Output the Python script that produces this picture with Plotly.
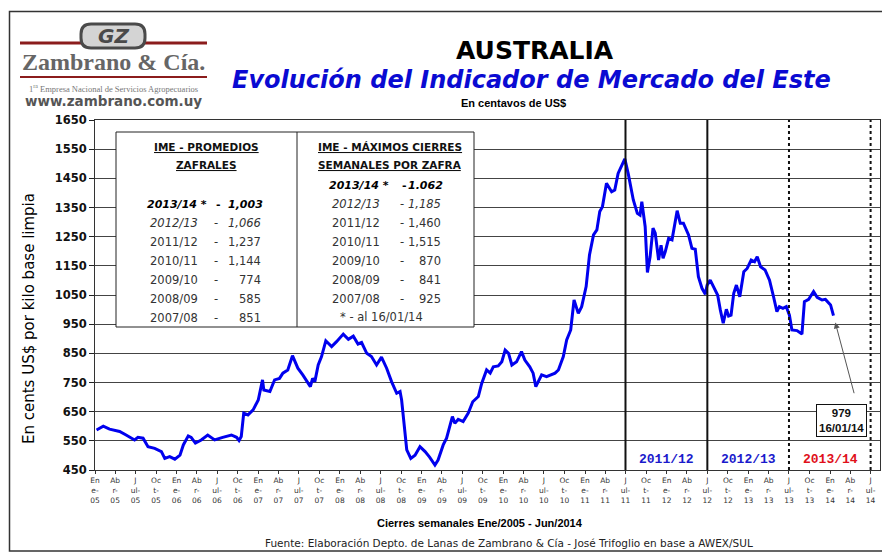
import plotly.graph_objects as go

# ---------------- DATA ----------------
dates = [
    "2005-01-08", "2005-02-07", "2005-03-07", "2005-04-21", "2005-05-20", "2005-06-27",
    "2005-07-12", "2005-08-04", "2005-08-26", "2005-09-25", "2005-10-25", "2005-11-09",
    "2005-12-01", "2005-12-24", "2006-01-16", "2006-01-31", "2006-02-22", "2006-03-07",
    "2006-03-26", "2006-04-21", "2006-05-20", "2006-06-20", "2006-07-26", "2006-09-03",
    "2006-09-26", "2006-10-07", "2006-10-17", "2006-10-28", "2006-11-16", "2006-12-09",
    "2007-01-01", "2007-01-20", "2007-01-26", "2007-02-22", "2007-03-15", "2007-04-06",
    "2007-04-21", "2007-05-13", "2007-06-03", "2007-06-27", "2007-07-19", "2007-08-11",
    "2007-08-22", "2007-09-01", "2007-09-11", "2007-09-26", "2007-10-11", "2007-10-30",
    "2007-11-25", "2007-12-17", "2008-01-16", "2008-02-08", "2008-03-01", "2008-03-22",
    "2008-04-07", "2008-04-30", "2008-05-21", "2008-06-13", "2008-07-05", "2008-07-28",
    "2008-08-19", "2008-09-11", "2008-09-26", "2008-10-03", "2008-10-14", "2008-10-26",
    "2008-11-13", "2008-12-02", "2008-12-24", "2009-01-16", "2009-02-05", "2009-03-01",
    "2009-03-15", "2009-04-07", "2009-04-22", "2009-05-06", "2009-05-18", "2009-05-29",
    "2009-06-13", "2009-07-05", "2009-07-28", "2009-08-17", "2009-09-11", "2009-09-26",
    "2009-10-18", "2009-11-03", "2009-11-17", "2009-12-09", "2009-12-25", "2010-01-09",
    "2010-01-24", "2010-02-08", "2010-03-01", "2010-03-23", "2010-04-07", "2010-04-29",
    "2010-05-14", "2010-05-26", "2010-06-21", "2010-07-13", "2010-08-20", "2010-09-04",
    "2010-09-26", "2010-10-11", "2010-10-29", "2010-11-13", "2010-12-02", "2010-12-17",
    "2011-01-06", "2011-01-21", "2011-02-08", "2011-02-23", "2011-03-08", "2011-03-20",
    "2011-04-07", "2011-04-30", "2011-05-14", "2011-05-29", "2011-06-28", "2011-07-13",
    "2011-08-05", "2011-08-23", "2011-09-04", "2011-09-12", "2011-09-27", "2011-10-07",
    "2011-10-19", "2011-11-01", "2011-11-11", "2011-11-26", "2011-12-07", "2011-12-16",
    "2011-12-26", "2012-01-10", "2012-01-25", "2012-02-17", "2012-03-02", "2012-03-16",
    "2012-04-08", "2012-04-23", "2012-05-08", "2012-05-22", "2012-06-07", "2012-06-22",
    "2012-06-30", "2012-07-14", "2012-07-29", "2012-08-16", "2012-08-28", "2012-09-10",
    "2012-09-24", "2012-10-04", "2012-10-15", "2012-10-27", "2012-11-08", "2012-11-23",
    "2012-12-11", "2012-12-26", "2013-01-13", "2013-01-28", "2013-02-09", "2013-02-24",
    "2013-03-16", "2013-04-05", "2013-04-23", "2013-05-08", "2013-05-19", "2013-06-04",
    "2013-06-19", "2013-07-03", "2013-07-14", "2013-08-06", "2013-08-28", "2013-09-08",
    "2013-09-27", "2013-10-19", "2013-11-04", "2013-11-26", "2013-12-11", "2014-01-03",
    "2014-01-16",
]
values = [
    587, 600, 590, 582, 570, 553,
    562, 559, 530, 524, 513, 490,
    496, 487, 501, 536, 567, 562,
    542, 553, 570, 553, 562, 570,
    562, 551, 565, 645, 639, 656,
    690, 759, 724, 719, 759, 764,
    782, 793, 842, 799, 776, 747,
    736, 764, 753, 810, 839, 893,
    873, 890, 916, 898, 909, 882,
    887, 850, 839, 810, 837, 799,
    753, 713, 719, 690, 610, 519,
    490, 501, 530, 513, 494, 467,
    484, 536, 559, 604, 633, 610,
    624, 616, 645, 684, 702, 747,
    793, 782, 804, 807, 821, 861,
    850, 810, 821, 856, 827, 804,
    782, 736, 776, 770, 782, 793,
    839, 896, 930, 1033, 987, 1010,
    1079, 1187, 1256, 1273, 1336, 1353,
    1433, 1404, 1410, 1467, 1517, 1467,
    1376, 1330, 1324, 1370, 1284, 1127,
    1181, 1279, 1262, 1170, 1221, 1176,
    1199, 1244, 1239, 1339, 1296, 1296,
    1256, 1210, 1207, 1113, 1073, 1053,
    1084, 1101, 1079, 1050, 999, 953,
    1001, 978, 981, 1056, 1084, 1044,
    1130, 1141, 1170, 1164, 1181, 1147,
    1136, 1101, 1044, 993, 1010, 1004,
    1010, 981, 930, 928, 916, 1027,
    1035, 1062, 1042, 1033, 1035, 1016,
    979,
]

# quarter tick labels (Excel-style wrapped)
quarter_dates = ["01-01", "04-01", "07-01", "10-01"]
quarter_labels = ["En<br>e-", "Ab<br>r-", "J<br>ul-", "Oc<br>t-"]
tick_years = ["05", "06", "07", "08", "09", "10", "11", "12", "13", "14"]

# season separators
season_lines = ["2011-07-01", "2012-07-01"]
season_dotted = ["2013-07-01", "2014-07-01"]
season_labels = ["2011/12", "2012/13", "2013/14"]
season_label_dates = ["2012-01-01", "2013-01-01", "2014-01-01"]
season_label_colors = ["#1a1acc", "#1a1acc", "#e0101a"]

# table contents
prom_years = ["2013/14 *", "2012/13", "2011/12", "2010/11", "2009/10", "2008/09", "2007/08"]
prom_values = ["1,003", "1,066", "1,237", "1,144", "774", "585", "851"]
max_years = ["2013/14 *", "2012/13", "2011/12", "2010/11", "2009/10", "2008/09", "2007/08"]
max_values = ["1.062", "1,185", "1,460", "1,515", "870", "841", "925"]

last_label = "979"
last_date_label = "16/01/14"

# ---------------- LAYOUT HELPERS ----------------
# page has an 8px body margin: figure occupies page pixels 8..890 x 8..553
OFF = 8
W, H = 890 - OFF, 553 - OFF
PX0, PX1, PY0, PY1 = 95, 880, 120, 470  # plot area in page pixels


def px(x):
    return (x - PX0) / (PX1 - PX0)


def py(y):
    return (PY1 - y) / (PY1 - PY0)


tickvals, ticktext = [], []
for yy in tick_years:
    for qd, ql in zip(quarter_dates, quarter_labels):
        d = "20" + yy + "-" + qd
        if d <= "2014-07-01":
            tickvals.append(d)
            ticktext.append(ql + "<br>" + yy)

fig = go.Figure()
fig.add_trace(go.Scatter(
    x=dates, y=values, mode="lines",
    line=dict(color="#0000ee", width=3),
    hoverinfo="skip", showlegend=False,
))

shapes = []
annotations = []


def ann(x, y, text, size, family="DejaVu Sans", color="#000", xanchor="center", **kw):
    annotations.append(dict(x=px(x), y=py(y), xref="paper", yref="paper", text=text,
                            showarrow=False, xanchor=xanchor, yanchor="middle",
                            font=dict(family=family, size=size, color=color), **kw))


# outer border
shapes.append(dict(type="rect", xref="paper", yref="paper",
                   x0=px(9.5), x1=px(888), y0=py(11.5), y1=py(551),
                   line=dict(color="#333", width=1.5), fillcolor="rgba(0,0,0,0)", layer="above"))

# season lines
for d in season_lines:
    shapes.append(dict(type="line", xref="x", yref="paper", x0=d, x1=d, y0=0, y1=1,
                       line=dict(color="#111", width=2), layer="above"))
for d in season_dotted:
    shapes.append(dict(type="line", xref="x", yref="paper", x0=d, x1=d, y0=0, y1=1,
                       line=dict(color="#111", width=2, dash="dot"), layer="above"))
for lab, d, c in zip(season_labels, season_label_dates, season_label_colors):
    annotations.append(dict(x=d, y=py(459), xref="x", yref="paper", text="<b>" + lab + "</b>",
                            showarrow=False, xanchor="center", yanchor="middle",
                            font=dict(family="Liberation Mono", size=13, color=c)))

# table box
shapes.append(dict(type="rect", xref="paper", yref="paper",
                   x0=px(116), x1=px(474), y0=py(327), y1=py(132),
                   line=dict(color="#222", width=1), fillcolor="white", layer="above"))
shapes.append(dict(type="line", xref="paper", yref="paper",
                   x0=px(297), x1=px(297), y0=py(327), y1=py(132),
                   line=dict(color="#222", width=1), layer="above"))

for txt, cx, cy in [("IME - PROMEDIOS", 206, 147), ("ZAFRALES", 206, 165),
                    ("IME - MÁXIMOS CIERRES", 390, 147), ("SEMANALES POR ZAFRA", 390, 165)]:
    ann(cx, cy, "<b><u>" + txt + "</u></b>", 10.5, color="#111")


def table_rows(years, vals, y0, x_year, x_dash, x_num):
    for i, (yr, v) in enumerate(zip(years, vals)):
        cy = y0 + i * 19.0
        if i == 0:
            t_yr, t_v, t_d = "<b><i>" + yr + "</i></b>", "<b><i>" + v + "</i></b>", "<b>-</b>"
            col, size = "#000", 11
            xy, xn, xd = x_year - 3, x_num + 2, x_dash + 2
        elif i == 1:
            t_yr, t_v, t_d = "<i>" + yr + "</i>", "<i>" + v + "</i>", "-"
            col, size = "#333", 11.5
            xy, xn, xd = x_year, x_num, x_dash
        else:
            t_yr, t_v, t_d = yr, v, "-"
            col, size = "#333", 11.5
            xy, xn, xd = x_year, x_num, x_dash
        ann(xy, cy, t_yr, size, color=col, xanchor="left")
        ann(xd, cy, t_d, size, color=col)
        ann(xn, cy, t_v, size, color=col, xanchor="right")


table_rows(prom_years, prom_values, 204, 148, 216, 263)
table_rows(max_years, max_values, 185, 330, 402, 443)
ann(381, 317, "* - al 16/01/14", 11.5, color="#333")

# last value callout
annotations.append(dict(x=dates[-1], y=values[-1], xref="x", yref="y", text="",
                        showarrow=True, ax=21, ay=79, arrowhead=2, arrowsize=1.2,
                        arrowwidth=1, arrowcolor="#555", standoff=7))
ann(841, 420, "<b>" + last_label + "<br>" + last_date_label + "</b>", 11.5,
    family="Liberation Sans", color="#111",
    bgcolor="white", bordercolor="#111", borderwidth=1, borderpad=2)

# titles
ann(535, 50, "<b>AUSTRALIA</b>", 25)
ann(531, 80, "<b><i>Evolución del Indicador de Mercado del Este</i></b>", 24, color="#0a0ad2")
ann(513, 103, "<b>En centavos de US$</b>", 11, family="Liberation Sans")

# axis titles / source
ann(29, 319, "En cents US$ por kilo base limpia", 15, textangle=-90)
ann(480, 523, "<b>Cierres semanales Ene/2005 - Jun/2014</b>", 11, family="Liberation Sans")
ann(509, 543, "Fuente: Elaboración Depto. de Lanas de Zambrano &amp; Cía - José Trifoglio en base a AWEX/SUL",
    10.5, color="#222")

# logo
shapes.append(dict(type="line", xref="paper", yref="paper", x0=px(20), x1=px(84), y0=py(43), y1=py(43),
                   line=dict(color="#8b1c1c", width=3), layer="above"))
shapes.append(dict(type="line", xref="paper", yref="paper", x0=px(140), x1=px(207), y0=py(43), y1=py(43),
                   line=dict(color="#8b1c1c", width=3), layer="above"))


def rounded_pill(x0, x1, y0, y1, r):
    # path in paper coords for a pill outline (page pixel inputs)
    pts = [
        f"M {px(x0 + r)} {py(y0)}",
        f"L {px(x1 - r)} {py(y0)}",
        f"Q {px(x1)} {py(y0)} {px(x1)} {py(y0 + r)}",
        f"L {px(x1)} {py(y1 - r)}",
        f"Q {px(x1)} {py(y1)} {px(x1 - r)} {py(y1)}",
        f"L {px(x0 + r)} {py(y1)}",
        f"Q {px(x0)} {py(y1)} {px(x0)} {py(y1 - r)}",
        f"L {px(x0)} {py(y0 + r)}",
        f"Q {px(x0)} {py(y0)} {px(x0 + r)} {py(y0)}",
        "Z",
    ]
    return " ".join(pts)


shapes.append(dict(type="path", xref="paper", yref="paper", path=rounded_pill(81, 145, 24, 48, 10),
                   line=dict(color="#4a4a4a", width=3), fillcolor="#d4d4d4", layer="above"))
ann(113, 36, "<b><i>GZ</i></b>", 20, color="#4a4a4a")
ann(113, 62, "<b>Zambrano &amp; Cía.</b>", 24, family="Liberation Serif", color="#666")
shapes.append(dict(type="line", xref="paper", yref="paper", x0=px(20), x1=px(207), y0=py(77), y1=py(77),
                   line=dict(color="#8b1c1c", width=2), layer="above"))
ann(113, 88, "1<sup>ra</sup> Empresa Nacional de Servicios Agropecuarios", 8.5,
    family="Liberation Serif", color="#777")
ann(113, 101, "<b>www.zambrano.com.uy</b>", 13.5, color="#555")

fig.update_layout(
    width=W, height=H,
    margin=dict(l=PX0 - OFF, r=W - (PX1 - OFF), t=PY0 - OFF, b=H - (PY1 - OFF)),
    paper_bgcolor="white", plot_bgcolor="white",
    shapes=shapes, annotations=annotations,
    showlegend=False,
    xaxis=dict(type="date", range=["2005-01-01", "2014-08-12"],
               tickvals=tickvals, ticktext=ticktext, tickangle=0,
               ticks="outside", ticklen=3, tickcolor="#333",
               tickfont=dict(family="DejaVu Sans", size=7.5, color="#333"),
               showgrid=False, showline=True, linecolor="#333", linewidth=1, mirror=True,
               zeroline=False),
    yaxis=dict(range=[450, 1650], tick0=450, dtick=100,
               ticks="outside", ticklen=5, tickcolor="#222",
               tickfont=dict(family="DejaVu Sans", size=11.5, color="#111", weight="bold"),
               showgrid=True, gridcolor="#444", gridwidth=1,
               showline=True, linecolor="#333", linewidth=1, mirror=True, zeroline=False),
)

fig.write_html("out.html", config={"displayModeBar": False})
